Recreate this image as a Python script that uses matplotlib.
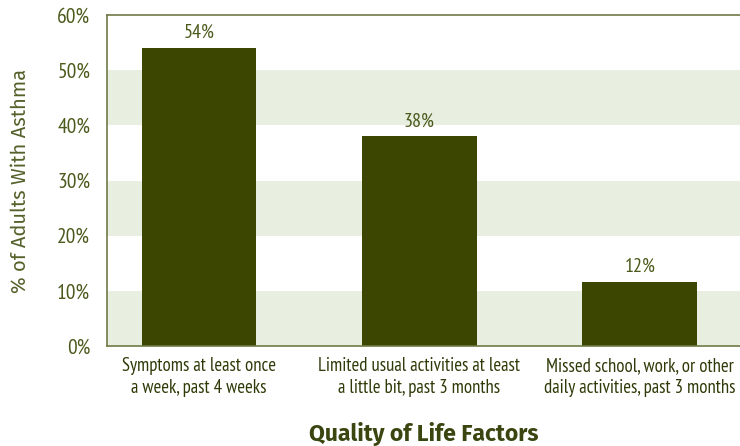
import matplotlib.pyplot as plt

factors = ["Symptoms at least once\na week, past 4 weeks",
           "Limited usual activities at least\na little bit, past 3 months",
           "Missed school, work, or other\ndaily activities, past 3 months"]
percents = [54, 38, 11.6]
yticks = [0, 10, 20, 30, 40, 50, 60]

plt.rcParams['font.family'] = ['PT Sans Narrow', 'DejaVu Sans']

bar_color = "#3d4600"
text_color = "#4b5a1c"
band_color = "#e8eee0"

fig = plt.figure(figsize=(7.4, 4.46), dpi=100)
ax = fig.add_axes([107 / 740, 100 / 446, 633 / 740, 331 / 446])

# alternating horizontal bands
for lo in yticks[:-1:2]:
    ax.axhspan(lo, lo + 10, color=band_color, zorder=0, lw=0)

x = list(range(len(factors)))
ax.bar(x, percents, width=0.52, color=bar_color, zorder=2)
for xi, v in zip(x, percents):
    ax.text(xi, v + 1.1, f"{round(v)}%", ha="center", va="bottom",
            fontsize=14.5, color=text_color)

ax.set_xlim(-0.418, 2.455)
ax.set_ylim(0, 60)
ax.set_yticks(yticks)
ax.set_yticklabels([f"{t}%" for t in yticks], fontsize=15.5, color=text_color)
ax.set_xticks(x)
ax.set_xticklabels(factors, fontsize=13.5, color="#2f3a08", linespacing=1.25)
ax.tick_params(length=0, axis="both")
ax.tick_params(axis="y", pad=12)
ax.tick_params(axis="x", pad=8)

for s in ["left", "bottom", "top"]:
    ax.spines[s].set_color("#6f7a45")
    ax.spines[s].set_linewidth(1.2)
ax.spines["right"].set_visible(False)

ax.set_ylabel("% of Adults With Asthma", fontsize=14.5, color="#55612a",
              fontfamily=["Fira Sans", "DejaVu Sans"], labelpad=20)
ax.set_xlabel("Quality of Life Factors", fontsize=16.5, fontweight="bold",
              fontfamily=["Fira Sans", "DejaVu Sans"],
              color="#3a4510", labelpad=18)

fig.savefig("out.png", dpi=100)
